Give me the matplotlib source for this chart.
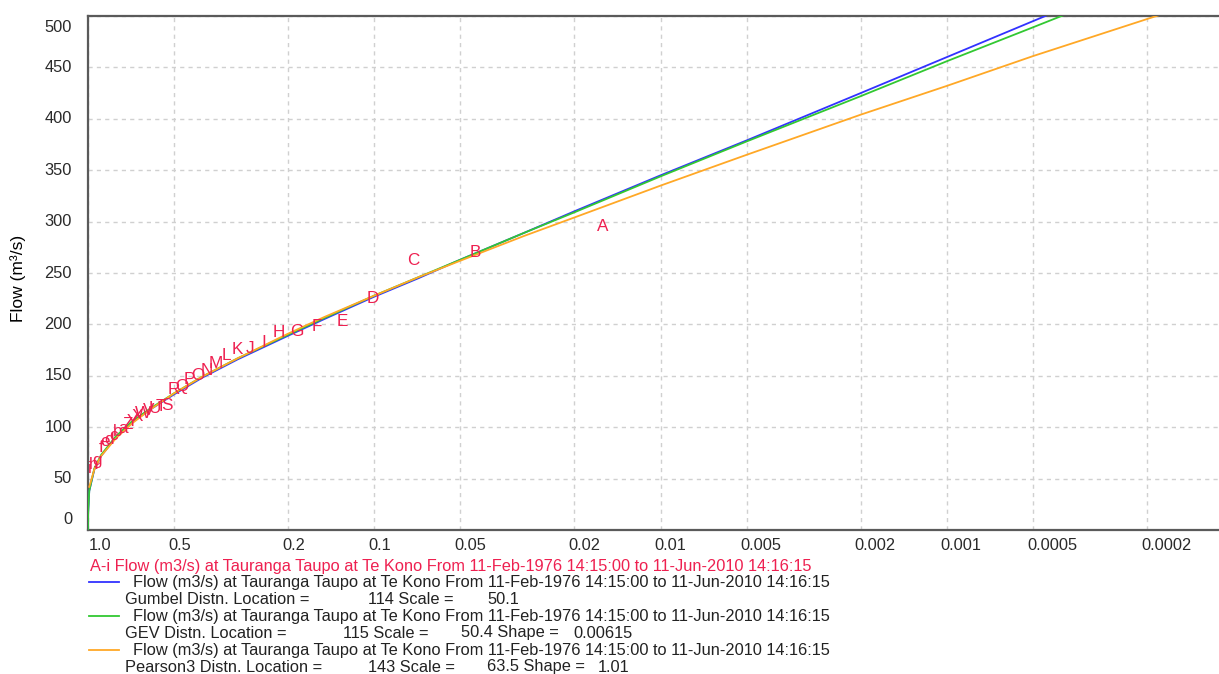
import matplotlib
matplotlib.use('Agg')
import matplotlib.pyplot as plt
import matplotlib.transforms as mtransforms
from matplotlib.lines import Line2D
from matplotlib.ticker import NullLocator

plt.rcParams['font.family'] = ['Liberation Sans', 'DejaVu Sans']

# exceedance probability at which the fitted curves are tabulated
prob = [0.99999, 0.9999, 0.999, 0.99, 0.95, 0.9, 0.8, 0.7, 0.6, 0.5, 0.4, 0.3,
        0.2, 0.15, 0.1, 0.07, 0.05, 0.03, 0.02, 0.01, 0.005, 0.002, 0.001,
        0.0005, 0.0002, 0.0001]
gumbel_flow = [-8, 3, 17, 38, 59, 72, 90, 105, 118, 132, 148, 166, 189, 205,
               227, 245, 263, 289, 310, 345, 379, 425, 460, 495, 541, 575]
gev_flow = [-9, 2, 17, 38, 60, 73, 91, 106, 119, 133, 149, 167, 190, 206,
            228, 246, 263, 289, 309, 344, 378, 422, 456, 489, 533, 566]
prob_p3 = [0.99, 0.95, 0.9, 0.8, 0.7, 0.6, 0.5, 0.4, 0.3, 0.2, 0.15, 0.1,
           0.07, 0.05, 0.03, 0.02, 0.01, 0.005, 0.002, 0.001, 0.0005,
           0.0002, 0.0001]
pearson3_flow = [42, 59, 72, 89, 104, 118, 133, 149, 167, 191, 207, 228, 246,
                 262, 286, 304, 335, 365, 404, 432, 461, 497, 524]

# annual maxima, ranked A (largest) to i (smallest), with plotting positions
obs_labels = list("ABCDEFGHIJKLMNOPQRSTUVWXYZ") + list("abcdefghi")
obs_prob = [0.0159, 0.0444, 0.0729, 0.1014, 0.1298, 0.1583, 0.1868, 0.2153,
            0.2437, 0.2722, 0.3007, 0.3292, 0.3576, 0.3861, 0.4146, 0.4431,
            0.4716, 0.5000, 0.5285, 0.5570, 0.5855, 0.6139, 0.6424, 0.6709,
            0.6994, 0.7278, 0.7563, 0.7848, 0.8133, 0.8417, 0.8702, 0.8987,
            0.9272, 0.9556, 0.9841]
obs_flow = [295, 270, 262, 225, 203, 198, 193, 192, 182, 177, 176, 170, 162,
            155, 150, 146, 140, 137, 121, 120, 118, 116, 113, 110, 106, 103,
            99, 96, 92, 88, 86, 80, 68, 64, 60]

xtick_vals = [1.0, 0.5, 0.2, 0.1, 0.05, 0.02, 0.01, 0.005, 0.002, 0.001,
              0.0005, 0.0002]
xtick_labels = ['1.0', '0.5', '0.2', '0.1', '0.05', '0.02', '0.01', '0.005',
                '0.002', '0.001', '0.0005', '0.0002']
ytick_vals = list(range(0, 501, 50))

series_title = ("Flow (m3/s) at Tauranga Taupo at Te Kono From 11-Feb-1976 "
                "14:15:00 to 11-Jun-2010 14:16:15")

RED = '#ee2050'
BLUE = '#3232ff'
GREEN = '#32c832'
ORANGE = '#ffa826'
FS = 11.8
W, H = 1219, 674

fig = plt.figure(figsize=(W / 100, H / 100), dpi=100)
ax = fig.add_axes([88 / W, 1 - 530 / H, (W - 88) / W, 514 / H])
ax.set_xscale('log')
ax.set_xlim(1.0, 1.12e-4)
ax.set_ylim(0, 500)

ax.plot(prob, gumbel_flow, color=BLUE, lw=1.3, zorder=3)
ax.plot(prob, gev_flow, color=GREEN, lw=1.3, zorder=3)
ax.plot(prob_p3, pearson3_flow, color=ORANGE, lw=1.3, zorder=3)

for lab, p, q in zip(obs_labels, obs_prob, obs_flow):
    ax.text(p, q, lab, ha='center', va='center', color=RED, fontsize=12.3,
            zorder=4)

# grid and frame
ax.set_xticks(xtick_vals)
ax.xaxis.set_minor_locator(NullLocator())
ax.set_yticks(ytick_vals)
ax.grid(True, ls=(0, (3, 3)), color='#d0d0d0', lw=1)
ax.tick_params(length=0, labelbottom=False, labelleft=False)
for side in ['left', 'top', 'bottom']:
    ax.spines[side].set_color('#5a5a5a')
    ax.spines[side].set_linewidth(1.6)
ax.spines['right'].set_visible(False)


def shift(dx, dy):
    return mtransforms.ScaledTranslation(dx / 100, dy / 100, fig.dpi_scale_trans)


for v, s in zip(xtick_vals, xtick_labels):
    dx = 1 if v == 1.0 else -6
    ax.text(v, 0, s, transform=ax.get_xaxis_transform() + shift(dx, -15),
            ha='left', va='center', fontsize=FS, color='#2a2a2a')

for v in ytick_vals:
    dy = 11 if v == 0 else (-11 if v == 500 else 0)
    ax.text(0, v, str(v), transform=ax.get_yaxis_transform() + shift(-16, dy),
            ha='right', va='center', fontsize=FS, color='#2a2a2a')

fig.text(18 / W, 1 - 278 / H, 'Flow (m³/s)', rotation=90, ha='center',
         va='center', fontsize=12.5, color='black')


def ftext(x, y, s, color='#222222'):
    fig.text(x / W, 1 - y / H, s, ha='left', va='center', fontsize=FS,
             color=color)


# legend block under the axes
ftext(90, 566, 'A-i ' + series_title, RED)
for y, c in [(582, BLUE), (616, GREEN), (650, ORANGE)]:
    fig.add_artist(Line2D([89 / W, 119 / W], [1 - y / H, 1 - y / H],
                          color=c, lw=1.3))
    ftext(133, y, series_title)

ftext(125, 599, 'Gumbel Distn. Location =')
ftext(368, 599, '114 Scale =')
ftext(487, 599, '50.1')

ftext(125, 633, 'GEV Distn. Location =')
ftext(343, 633, '115 Scale =')
ftext(461, 633, '50.4 Shape =')
ftext(573, 633, '0.00615')

ftext(125, 667, 'Pearson3 Distn. Location =')
ftext(368, 667, '143 Scale =')
ftext(487, 667, '63.5 Shape =')
ftext(598, 667, '1.01')

fig.savefig('out.png', dpi=100)
